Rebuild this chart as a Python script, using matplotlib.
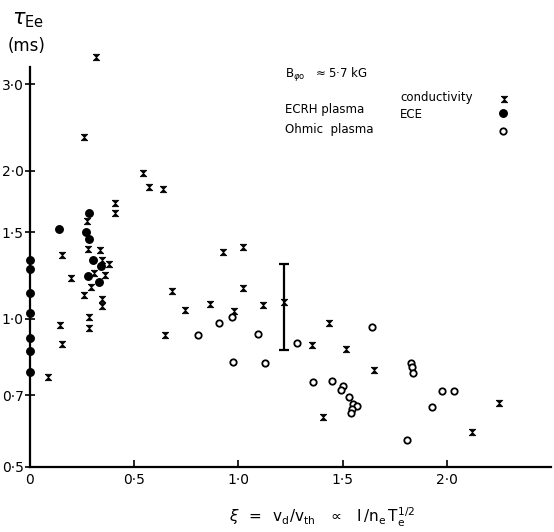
import matplotlib
matplotlib.use("Agg")
import matplotlib.pyplot as plt
from matplotlib.ticker import FixedLocator, NullLocator

# energy confinement time tau_Ee (ms) against xi = v_d / v_th
# ECRH plasma, tau from conductivity
ecrh_cond_xi = [0.317, 0.26, 0.54, 0.571, 0.636, 0.409, 0.409, 0.272, 0.28, 0.336,
                0.152, 0.344, 0.38, 0.307, 0.36, 0.195, 0.291, 0.68, 0.26, 0.345,
                0.345, 0.745, 0.285, 0.144, 0.281, 0.647, 0.155, 0.088, 0.927, 1.02,
                1.02, 0.863, 0.978, 1.119, 1.217, 1.353, 1.434, 1.516, 1.652, 1.407,
                2.123, 2.249]
ecrh_cond_tau = [3.41, 2.34, 1.98, 1.85, 1.84, 1.72, 1.64, 1.58, 1.39, 1.38,
                 1.35, 1.32, 1.29, 1.24, 1.23, 1.21, 1.16, 1.14, 1.12, 1.10,
                 1.06, 1.04, 1.01, 0.97, 0.956, 0.926, 0.89, 0.763, 1.37, 1.40,
                 1.156, 1.074, 1.037, 1.068, 1.084, 0.885, 0.981, 0.868, 0.788, 0.631,
                 0.59, 0.676]

# ECRH plasma, tau from ECE
ecrh_ece_xi = [0.283, 0.141, 0.269, 0.285, 0.30, 0.34, 0.278, 0.331,
               0, 0, 0, 0, 0, 0, 0]
ecrh_ece_tau = [1.64, 1.52, 1.50, 1.45, 1.32, 1.28, 1.22, 1.19,
                1.32, 1.26, 1.13, 1.03, 0.914, 0.862, 0.781]

# ohmic plasma
ohmic_xi = [0.806, 0.906, 0.967, 1.092, 0.972, 1.129, 1.282, 1.643, 1.356, 1.450,
            1.503, 1.493, 1.530, 1.551, 1.570, 1.544, 1.541, 1.826, 1.834, 1.839,
            1.811, 1.93, 1.975, 2.034]
ohmic_tau = [0.928, 0.98, 1.008, 0.931, 0.816, 0.815, 0.892, 0.963, 0.743, 0.749,
             0.732, 0.716, 0.693, 0.672, 0.664, 0.656, 0.643, 0.815, 0.797, 0.775,
             0.567, 0.663, 0.714, 0.714]

# typical error bar
err_xi = 1.217
err_tau = 1.084
err_lo = 0.866
err_hi = 1.294

yticks = [0.5, 0.7, 1.0, 1.5, 2.0, 3.0]
ytick_labels = ["0·5", "0·7", "1·0", "1·5", "2·0", "3·0"]
xticks = [0, 0.5, 1.0, 1.5, 2.0]
xtick_labels = ["0", "0·5", "1·0", "1·5", "2·0"]

W, H = 554, 532
fig = plt.figure(figsize=(W / 100, H / 100), dpi=100)
ax = fig.add_axes([30 / W, 1 - 467 / H, 521 / W, 400 / H])

# hourglass-shaped cross used for the conductivity points
hourglass = [(-1, 1), (1, 1), (-1, -1), (1, -1), (-1, 1)]
cross_kw = dict(marker=hourglass, ms=4.6, color="k", mew=0.6, ls="none", clip_on=False)
full_kw = dict(marker="o", ms=5.4, color="k", ls="none", clip_on=False)
open_kw = dict(marker="o", ms=4.6, mfc="white", mec="k", mew=1.3, ls="none", clip_on=False)

ax.errorbar([err_xi], [err_tau], yerr=[[err_tau - err_lo], [err_hi - err_tau]],
            fmt="none", ecolor="k", elinewidth=1.6, capsize=3.5, capthick=1.6)
ax.plot(ecrh_cond_xi, ecrh_cond_tau, **cross_kw)
ax.plot(ecrh_ece_xi, ecrh_ece_tau, **full_kw, zorder=4)
ax.plot(ohmic_xi, ohmic_tau, **open_kw)

ax.set_yscale("log")
ax.set_xlim(0, 2.5)
ax.set_ylim(0.5, 3.25)
ax.yaxis.set_major_locator(FixedLocator(yticks))
ax.yaxis.set_minor_locator(NullLocator())
ax.set_yticklabels(ytick_labels)
ax.set_xticks(xticks)
ax.set_xticklabels(xtick_labels)

for s in ["top", "right"]:
    ax.spines[s].set_visible(False)
for s in ["left", "bottom"]:
    ax.spines[s].set_linewidth(1.6)
ax.tick_params(axis="y", direction="inout", length=7, width=1.2, pad=1, labelsize=10)
ax.tick_params(axis="x", direction="in", length=5, width=1.2, pad=4, labelsize=10)

# axis labels
fig.text(12 / W, 1 - 20 / H, r"$\tau_{\mathrm{Ee}}$", fontsize=15, va="center", ha="left")
fig.text(8 / W, 1 - 46 / H, "(ms)", fontsize=12, va="center", ha="left")
fig.text(322 / W, 1 - 517 / H,
         r"$\xi\;\;=\;\;\mathrm{v_d/v_{th}}\;\;\;\propto\;\;\;\mathrm{I\,/n_e\,T_e^{1/2}}$",
         fontsize=11, ha="center", va="center")

# key
fig.text(285 / W, 1 - 75 / H, r"B$_{\varphi\mathrm{o}}$   ≈ 5·7 kG", fontsize=8.5, va="center")
fig.text(285 / W, 1 - 110 / H, "ECRH plasma", fontsize=8.5, va="center")
fig.text(285 / W, 1 - 130 / H, "Ohmic  plasma", fontsize=8.5, va="center")
fig.text(400 / W, 1 - 97 / H, "conductivity", fontsize=8.5, va="center")
fig.text(400 / W, 1 - 114 / H, "ECE", fontsize=8.5, va="center")
ax.plot([504 / W], [1 - 99 / H], transform=fig.transFigure, **cross_kw)
ax.plot([503 / W], [1 - 113 / H], transform=fig.transFigure, **full_kw)
ax.plot([503 / W], [1 - 131 / H], transform=fig.transFigure, **open_kw)

fig.savefig("out.png", dpi=100)
